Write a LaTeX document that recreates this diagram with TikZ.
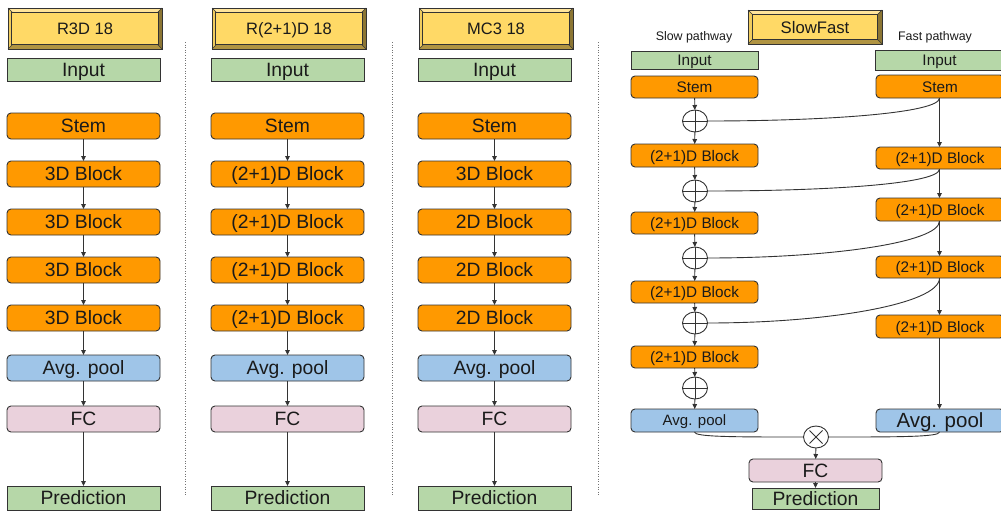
\documentclass[tikz,border=0pt]{standalone}
\usepackage{fontspec}
\setmainfont{Liberation Sans}
\usetikzlibrary{shapes.geometric,arrows.meta}

\definecolor{orangefill}{HTML}{FF9900}
\definecolor{greenfill}{HTML}{B6D7A8}
\definecolor{bluefill}{HTML}{9FC5E8}
\definecolor{pinkfill}{HTML}{EAD1DC}
\definecolor{yellowfill}{HTML}{FFD966}
\definecolor{bevtop}{HTML}{FFE49A}
\definecolor{bevleft}{HTML}{F0CC5E}
\definecolor{bevright}{HTML}{8C7634}
\definecolor{bevbottom}{HTML}{B09442}
\definecolor{edge}{HTML}{333333}
\definecolor{ink}{HTML}{1A1A1A}

\tikzset{
  box/.style={draw=edge, line width=0.9pt, inner sep=0pt, outer sep=0pt, text=ink,
    text depth=0pt},
  rbox/.style={box, rounded corners=4pt},
  stembox/.style={rbox, fill=orangefill},
  inbox/.style={box, fill=greenfill},
  poolbox/.style={rbox, fill=bluefill},
  fcbox/.style={rbox, fill=pinkfill},
  predbox/.style={box, fill=greenfill},
  % font size with matching cap height, so capitals sit centred
  txt/.style={font=\fontsize{#1}{#1}\selectfont, text height={0.72*#1*1pt}},
  big/.style={txt=19.3},
  small/.style={txt=15.3},
  arr/.style={draw=edge, line width=0.9pt, -{Triangle[length=5pt,width=4.5pt]}},
  link/.style={draw=edge, line width=0.9pt},
  sepline/.style={draw=black!55, line width=1pt, dash pattern=on 1pt off 1.6pt},
  opcirc/.style={draw=edge, line width=0.9pt, fill=white, ellipse,
    minimum width=25pt, minimum height=22pt, inner sep=0pt, outer sep=0pt},
  pluscirc/.style={opcirc, path picture={
      \draw[edge, line width=0.9pt]
        (path picture bounding box.north) -- (path picture bounding box.south)
        (path picture bounding box.west) -- (path picture bounding box.east);}},
  crosscirc/.style={opcirc, path picture={
      \draw[edge, line width=0.9pt]
        ([shift={(-6.5pt,6.5pt)}]path picture bounding box.center) -- ([shift={(6.5pt,-6.5pt)}]path picture bounding box.center)
        ([shift={(-6.5pt,-6.5pt)}]path picture bounding box.center) -- ([shift={(6.5pt,6.5pt)}]path picture bounding box.center);}},
  lbl/.style={text=ink, inner sep=0pt, font=\fontsize{12.4}{14}\selectfont},
}

% box by its corners: name, style, x1, y1, x2, y2, text
\newcommand{\bx}[7]{%
  \node[#2, minimum width={(#5-#3)*1pt}, minimum height={(#6-#4)*1pt}]
    (#1) at ({(#3+#5)/2},{(#4+#6)/2}) {#7};}

% bevelled title plate: name, x1, y1, x2, y2, text, font size
\newcommand{\bevelplate}[7]{%
  \def\bd{4.5}%
  \fill[bevtop] (#2,#3) -- (#4,#3) -- (#4-\bd,#3+\bd) -- (#2+\bd,#3+\bd) -- cycle;
  \fill[bevright] (#4,#3) -- (#4,#5) -- (#4-\bd,#5-\bd) -- (#4-\bd,#3+\bd) -- cycle;
  \fill[bevbottom] (#4,#5) -- (#2,#5) -- (#2+\bd,#5-\bd) -- (#4-\bd,#5-\bd) -- cycle;
  \fill[bevleft] (#2,#5) -- (#2,#3) -- (#2+\bd,#3+\bd) -- (#2+\bd,#5-\bd) -- cycle;
  \draw[edge, line width=0.6pt] (#2,#3) -- (#2+\bd,#3+\bd) (#4,#3) -- (#4-\bd,#3+\bd)
     (#4,#5) -- (#4-\bd,#5-\bd) (#2,#5) -- (#2+\bd,#5-\bd);
  \node[box, line width=0.6pt, fill=yellowfill, minimum width={(#4-#2-2*\bd)*1pt},
    minimum height={(#5-#3-2*\bd)*1pt}, txt=#7]
    (#1) at ({(#2+#4)/2},{(#3+#5)/2}) {#6};
  \draw[edge, line width=0.9pt] (#2,#3) rectangle (#4,#5);}

% one single-stream network: id, left x, title, block texts
\newcommand{\netcolumn}[7]{%
  \pgfmathsetmacro{\xr}{#2+153}%
  \bevelplate{#1title}{#2+1}{8}{\xr+2}{49}{#3}{16.5}
  \bx{#1in}{inbox,big}{#2}{58}{\xr}{81}{Input}
  \bx{#1stem}{stembox,big}{#2}{113}{\xr}{139}{Stem}
  \bx{#1ba}{stembox,big}{#2}{161}{\xr}{187}{#4}
  \bx{#1bb}{stembox,big}{#2}{209}{\xr}{235}{#5}
  \bx{#1bc}{stembox,big}{#2}{257}{\xr}{283}{#6}
  \bx{#1bd}{stembox,big}{#2}{305}{\xr}{331}{#7}
  \bx{#1pool}{poolbox,big}{#2}{355}{\xr}{381}{Avg. pool}
  \bx{#1fc}{fcbox,big}{#2}{406}{\xr}{432}{FC}
  \bx{#1pred}{predbox,big}{#2}{486}{\xr}{510}{Prediction}
  \draw[arr] (#1stem) -- (#1ba);
  \draw[arr] (#1ba) -- (#1bb);
  \draw[arr] (#1bb) -- (#1bc);
  \draw[arr] (#1bc) -- (#1bd);
  \draw[arr] (#1bd) -- (#1pool);
  \draw[arr] (#1pool) -- (#1fc);
  \draw[arr] (#1fc) -- (#1pred);}

\begin{document}
\begin{tikzpicture}[x=1pt, y=-1pt]
\useasboundingbox[fill=white] (0,0) rectangle (1001,514);

% ---- three single-stream networks ----
\netcolumn{ra}{7}{R3D 18}{3D Block}{3D Block}{3D Block}{3D Block}
\netcolumn{rb}{211}{R(2+1)D 18}{(2+1)D Block}{(2+1)D Block}{(2+1)D Block}{(2+1)D Block}
\netcolumn{rc}{418}{MC3 18}{3D Block}{2D Block}{2D Block}{2D Block}

% ---- dotted separators ----
\draw[sepline] (185.5,42) -- (185.5,495);
\draw[sepline] (392,42) -- (392,495);
\draw[sepline] (598.5,42) -- (598.5,495);

% ---- SlowFast ----
\bevelplate{sftitle}{748}{10}{882}{44}{SlowFast}{16.7}
\node[lbl] (slowlbl) at (694,37) {Slow pathway};
\node[lbl] (fastlbl) at (935,37) {Fast pathway};

% slow pathway
\bx{sin}{inbox,small}{631}{51}{758}{69}{Input}
\bx{sstem}{stembox,small}{631}{76}{758}{98}{Stem}
\node[pluscirc] (pa) at (695,121) {};
\bx{sba}{stembox,small}{631}{144}{758}{167}{(2+1)D Block}
\node[pluscirc] (pb) at (695,191) {};
\bx{sbb}{stembox,small}{631}{212}{758}{234}{(2+1)D Block}
\node[pluscirc] (pc) at (695,258) {};
\bx{sbc}{stembox,small}{631}{281}{758}{303}{(2+1)D Block}
\node[pluscirc] (pd) at (695,323) {};
\bx{sbd}{stembox,small}{631}{346}{758}{368}{(2+1)D Block}
\node[pluscirc] (pe) at (695,388) {};
\bx{spool}{poolbox,txt=15}{631}{409}{758}{432}{Avg. pool}

% fast pathway
\bx{fin}{inbox,small}{875}{50}{1004}{70}{Input}
\bx{fstem}{stembox,small}{876}{75}{1004}{98}{Stem}
\bx{fba}{stembox,small}{876}{147}{1004}{169}{(2+1)D Block}
\bx{fbb}{stembox,small}{876}{198}{1004}{221}{(2+1)D Block}
\bx{fbc}{stembox,small}{876}{256}{1004}{278}{(2+1)D Block}
\bx{fbd}{stembox,small}{876}{315}{1004}{338}{(2+1)D Block}
\bx{fpool}{poolbox,txt=20.5}{876}{409}{1004}{432}{Avg. pool}

% fusion and head
\node[crosscirc] (mix) at (816,437) {};
\bx{sffc}{fcbox,big}{749}{459}{882}{482}{FC}
\bx{sfpred}{predbox,big}{752}{488}{879}{509}{Prediction}

% slow stream arrows
\draw[arr] (sstem) -- (pa);
\draw[arr] (pa) -- (sba);
\draw[arr] (sba) -- (pb);
\draw[arr] (pb) -- (sbb);
\draw[arr] (sbb) -- (pc);
\draw[arr] (pc) -- (sbc);
\draw[arr] (sbc) -- (pd);
\draw[arr] (pd) -- (sbd);
\draw[arr] (sbd) -- (pe);
\draw[arr] (pe) -- (spool);

% fast stream arrows
\draw[arr] ([xshift=-0.5pt]fstem.south) -- ([xshift=-0.5pt]fba.north);
\draw[arr] ([xshift=-0.5pt]fba.south) -- ([xshift=-0.5pt]fbb.north);
\draw[arr] ([xshift=-0.5pt]fbb.south) -- ([xshift=-0.5pt]fbc.north);
\draw[arr] ([xshift=-0.5pt]fbc.south) -- ([xshift=-0.5pt]fbd.north);
\draw[arr] ([xshift=-0.5pt]fbd.south) -- ([xshift=-0.5pt]fpool.north);

% lateral connections fast -> slow
\draw[link] ([xshift=-0.5pt]fstem.south) .. controls +(0,15) and +(120,0) .. (pa.east);
\draw[link] ([xshift=-0.5pt]fba.south) .. controls +(0,15) and +(120,0) .. (pb.east);
\draw[link] ([xshift=-0.5pt]fbb.south) .. controls +(0,22) and +(120,0) .. (pc.east);
\draw[link] ([xshift=-0.5pt]fbc.south) .. controls +(0,26) and +(120,0) .. (pd.east);

% fusion of both pathways
\draw[link] (spool.south) .. controls +(0,5) and +(-70,0) .. (mix.west);
\draw[link] ([xshift=-0.5pt]fpool.south) .. controls +(0,5) and +(70,0) .. (mix.east);
\draw[arr] (mix) -- (sffc);
\draw[arr] (sffc) -- (sfpred);
\end{tikzpicture}
\end{document}
